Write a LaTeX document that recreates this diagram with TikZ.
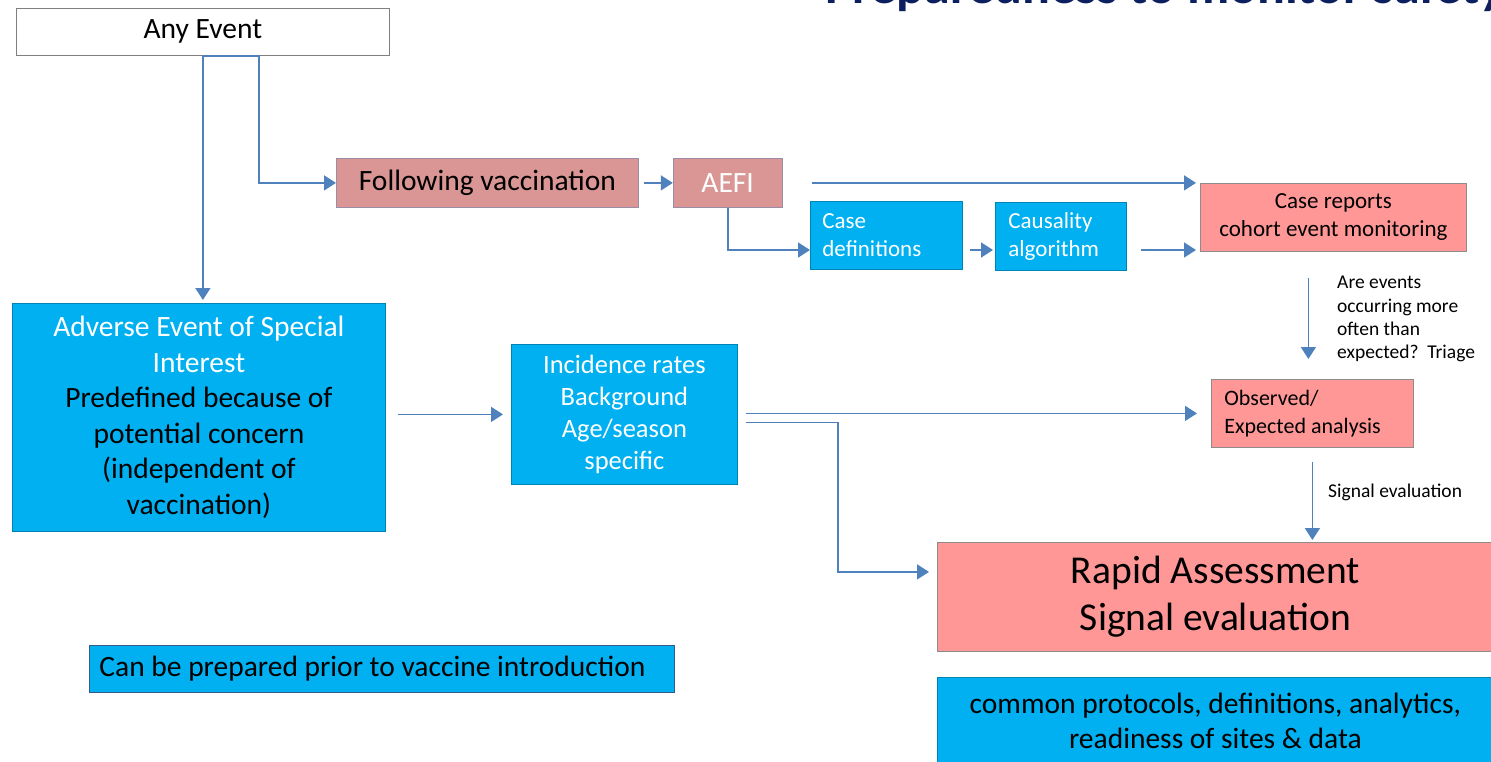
\documentclass[tikz,border=0pt]{standalone}
\usepackage{fontspec}
\setmainfont{Carlito}
\usetikzlibrary{arrows.meta,positioning,calc}
\definecolor{SlideCyan}{HTML}{00B0F0}
\definecolor{DustyRose}{HTML}{D99694}
\definecolor{SalmonPink}{HTML}{FF9797}
\definecolor{ArrowBlue}{HTML}{4F81BD}
\definecolor{TitleNavy}{HTML}{0C1F5F}
\definecolor{EdgeGray}{HTML}{7F7F7F}
\newcommand{\slidefont}[2]{\fontsize{#1pt}{#2pt}\selectfont}

\begin{document}
\begin{tikzpicture}[x=1pt, y=-1pt,
          box/.style={rectangle, draw, line width=0.8pt, inner sep=0pt, anchor=north west, align=center},
          cyanbox/.style={box, fill=SlideCyan, draw=SlideCyan!75!black},
          rosebox/.style={box, fill=DustyRose, draw=ArrowBlue!45!DustyRose},
          pinkbox/.style={box, fill=SalmonPink, draw=black!45},
          note/.style={inner sep=0pt, align=flush left, font=\slidefont{19.5}{23.3}},
          arrow/.style={-{Triangle[length=12pt, width=15pt]}, ArrowBlue, line width=1.6pt}
        ]
          \useasboundingbox (0,0) rectangle (1491,761);
          \clip (0,0) rectangle (1491,761);

          % Title (cut off at the top)
          \node[anchor=base west, inner sep=0pt, text=TitleNavy, font=\slidefont{52}{60}\bfseries] (title) at (825,3) {Preparedness to monitor safety};

          % Row 1: any event
          \node[box, draw=EdgeGray, fill=white, minimum width=373pt, minimum height=47pt, font=\slidefont{29.5}{35}] (anyevent) at (16,8) {Any Event};

          % Row 2: vaccination branch
          \node[rosebox, minimum width=302pt, minimum height=49pt, font=\slidefont{29.5}{35}] (follow) at (336,158) {Following vaccination};
          \node[rosebox, minimum width=109pt, minimum height=49pt, font=\slidefont{29.5}{35}, text=white, right=34pt of follow.north east, anchor=north west] (aefi) {AEFI};
          \node[cyanbox, minimum width=152pt, minimum height=68pt, inner xsep=12pt, text width=128pt, align=flush left, text=white, font=\slidefont{23}{28}] (casedef) at (810,201) {Case\\definitions};
          \node[cyanbox, minimum width=131pt, minimum height=68pt, inner xsep=13pt, text width=105pt, align=flush left, text=white, font=\slidefont{23}{28}] (causality) at (995,202) {Causality\\algorithm};
          \node[pinkbox, minimum width=266pt, minimum height=68pt, font=\slidefont{23}{28}] (casereports) at (1200,183) {Case reports\\cohort event monitoring};

          % Triage question
          \node[note, anchor=north west] (triage) at (1337,276) {Are events\\occurring more\\often than\\expected?~~Triage};

          % Row 3: special interest branch
          \node[cyanbox, minimum width=373pt, minimum height=228pt, font=\slidefont{29.5}{35.5}] (aesi) at (12,303) {\textcolor{white}{Adverse Event of Special}\\\textcolor{white}{Interest}\\Predefined because of\\potential concern\\(independent of\\vaccination)};
          \node[cyanbox, minimum width=226pt, minimum height=140pt, text=white, font=\slidefont{26.5}{32}] (incidence) at (511,344) {Incidence rates\\Background\\Age/season\\specific};
          \node[pinkbox, minimum width=202pt, minimum height=68pt, inner xsep=13pt, text width=176pt, align=flush left, font=\slidefont{22}{28}] (observed) at (1211,379) {Observed/\\Expected analysis};

          \node[note, anchor=west] (signal) at (1328,492) {Signal evaluation};

          % Row 4: assessment
          \node[pinkbox, minimum width=556pt, minimum height=109pt, font=\slidefont{39.5}{47}] (rapid) at (937,542) {Rapid Assessment\\Signal evaluation};
          \node[cyanbox, minimum width=556pt, minimum height=86pt, font=\slidefont{29.5}{35}] (common) at (937,677) {common protocols, definitions, analytics,\\readiness of sites \& data};
          \node[cyanbox, draw=ArrowBlue!70!black, minimum width=585pt, minimum height=47pt, inner xsep=10pt, text width=565pt, align=flush left, font=\slidefont{29.5}{35}] (prior) at (89,645) {Can be prepared prior to vaccine introduction};

          % Arrows - from any event
          \draw[arrow, shorten >=3pt] (anyevent.south) -- (anyevent.south |- aesi.north);
          \draw[arrow] (anyevent.south) -- ++(56,0) |- (follow.west);

          % Arrows - vaccination branch
          \coordinate (lowrow) at (0,250);
          \draw[arrow, shorten <=5pt] (follow.east) -- (aefi.west);
          \draw[arrow, shorten <=29pt, shorten >=4pt] (aefi.east) -- (aefi.east -| casereports.west);
          \draw[arrow] (aefi.south) |- (casedef.west |- lowrow);
          \draw[arrow, shorten <=7pt, shorten >=2pt] (casedef.east |- lowrow) -- (causality.west |- lowrow);
          \draw[arrow, shorten <=14pt, shorten >=4pt] (causality.east |- lowrow) -- (casereports.west |- lowrow);
          \draw[arrow, shorten <=26pt, shorten >=20pt] ([xshift=-4pt]casereports.south -| observed.north) -- ([xshift=-4pt]observed.north);

          % Arrows - special interest branch
          \draw[arrow, shorten <=12pt, shorten >=8pt] (incidence.west -| aesi.east) -- (incidence.west);
          \draw[arrow, shorten <=8pt, shorten >=14pt] (observed.west -| incidence.east) -- (observed.west);
          \draw[arrow, shorten >=8pt] ([shift={(8pt,-8pt)}]incidence.east) -- ++(92,0) |- ([yshift=25pt]rapid.west);
          \draw[arrow, shorten <=14pt, shorten >=2pt] (observed.south) -- (observed.south |- rapid.north);

        \end{tikzpicture}
\end{document}
